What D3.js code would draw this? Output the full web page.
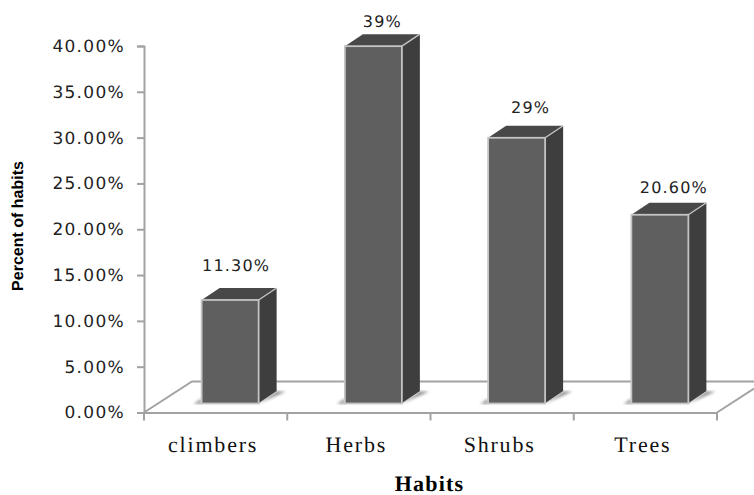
<!DOCTYPE html>
<html>
<head>
<meta charset="utf-8">
<script src="https://cdn.jsdelivr.net/npm/d3@7"></script>
<style>
html,body{margin:0;padding:0;background:#fff;}
svg{display:block;}
text{font-style:normal;text-rendering:geometricPrecision;}
.val{font-family:"DejaVu Sans";font-size:16px;fill:#222;}
.cat{font-family:"Liberation Serif";font-size:22px;fill:#111;}
.xtitle{font-family:"Liberation Serif";font-size:22px;font-weight:bold;fill:#000;}
.ytitle{font-family:"Liberation Sans";font-size:16px;font-weight:bold;fill:#000;}
</style>
</head>
<body>
<div id="chart"></div>
<script>
var categories=['climbers','Herbs','Shrubs','Trees'];
var values=[11.3,39,29,20.6];
var valueLabels=['11.30%','39%','29%','20.60%'];
var yTicks=[0,5,10,15,20,25,30,35,40];

var width=754,
    height=495,
    left=144,
    right=717,
    bottom=412.5,
    top_=46,
    // 3d 偏移
    floorDx=48,
    floorDy=31,
    depthDx=18,
    depthDy=12,
    baseLift=9,
    barShift=14.5,
    barW=57,
    axisColor='#a2a2a2';

var svg=d3.select('#chart').append('svg')
    .attr('width',width)
    .attr('height',height);

var defs=svg.append('defs');
defs.append('filter').attr('id','blur')
    .append('feGaussianBlur').attr('stdDeviation',1.6);

var scale_band=d3.scaleBand()
    .domain(categories)
    .range([left,right]);

var scale_y=d3.scaleLinear()
    .domain([0,40])
    .range([bottom,top_]);

// 地板
svg.append('path')
    .attr('d','M'+left+','+bottom+'L'+(left+floorDx)+','+(bottom-floorDy)+'L'+width+','+(bottom-floorDy))
    .attr('fill','none').attr('stroke',axisColor).attr('stroke-width',2);
svg.append('path')
    .attr('d','M'+right+','+bottom+'L'+width+','+(bottom-24))
    .attr('fill','none').attr('stroke',axisColor).attr('stroke-width',2);

// y轴
var y_axis=svg.append('g')
    .attr('transform','translate('+left+',0)')
    .call(d3.axisLeft(scale_y).tickValues(yTicks).tickSize(7).tickFormat(function(d){return d.toFixed(2)+'%';}));
y_axis.select('.domain').attr('stroke',axisColor).attr('stroke-width',2);
y_axis.selectAll('line').attr('stroke',axisColor).attr('stroke-width',2);
y_axis.selectAll('text')
    .attr('x',-19)
    .style('font-family','"DejaVu Sans"')
    .style('font-size','17px')
    .style('letter-spacing','1.3px')
    .style('fill','#222');

// x轴
var x_axis=svg.append('g')
    .attr('transform','translate(0,'+bottom+')')
    .call(d3.axisBottom(scale_band).tickSize(0));
x_axis.select('.domain').attr('stroke',axisColor).attr('stroke-width',2);
x_axis.selectAll('text').remove();
x_axis.selectAll('.tick line').remove();
x_axis.selectAll('.edge')
    .data(categories.map(function(d){return scale_band(d);}).concat([right]))
    .enter().append('line')
    .attr('x1',function(d){return d;}).attr('x2',function(d){return d;})
    .attr('y1',0).attr('y2',8)
    .attr('stroke',axisColor).attr('stroke-width',2);

// 柱子
var item=svg.selectAll('.item')
    .data(categories.map(function(c,i){return {c:c,v:values[i],label:valueLabels[i]};}))
    .enter().append('g')
    .attr('class','item');

function x0(d){return scale_band(d.c)+scale_band.bandwidth()/2+barShift-barW/2;}
function yb(){return bottom-baseLift;}
function yt(d){return scale_y(d.v)-scale_y(0)+yb();}

// 阴影
item.append('path')
    .attr('d',function(d){
        var x=x0(d),b=yb();
        return 'M'+(x-6)+','+b+'L'+(x+barW)+','+b+'L'+(x+barW+depthDx+9)+','+(b-depthDy)+'L'+(x+barW+depthDx)+','+(b-depthDy)+'L'+(x+barW)+','+b+'Z';
    })
    .attr('fill','#8a8a8a')
    .attr('filter','url(#blur)');
item.append('path')
    .attr('d',function(d){
        var x=x0(d),b=yb();
        return 'M'+(x-8)+','+(b+0.5)+'L'+x+','+(b-5)+'L'+x+','+(b+0.5)+'Z';
    })
    .attr('fill','#9a9a9a')
    .attr('filter','url(#blur)');

// 侧面
item.append('path')
    .attr('d',function(d){
        var x=x0(d)+barW,b=yb(),t=yt(d);
        return 'M'+x+','+t+'L'+(x+depthDx)+','+(t-depthDy)+'L'+(x+depthDx)+','+(b-depthDy)+'L'+x+','+b+'Z';
    })
    .attr('fill','#3e3e3e');
// 顶面
item.append('path')
    .attr('d',function(d){
        var x=x0(d),t=yt(d);
        return 'M'+x+','+t+'L'+(x+depthDx)+','+(t-depthDy)+'L'+(x+barW+depthDx)+','+(t-depthDy)+'L'+(x+barW)+','+t+'Z';
    })
    .attr('fill','#484848');
// 正面
item.append('rect')
    .attr('x',x0)
    .attr('y',yt)
    .attr('width',barW)
    .attr('height',function(d){return yb()-yt(d);})
    .attr('fill','#5f5f5f')
    .attr('stroke','#c4c4c4')
    .attr('stroke-width',1.8);
// 高光边
item.append('line')
    .attr('x1',function(d){return x0(d)+barW;})
    .attr('y1',yt)
    .attr('x2',function(d){return x0(d)+barW+depthDx;})
    .attr('y2',function(d){return yt(d)-depthDy;})
    .attr('stroke','#c4c4c4').attr('stroke-width',1.4);
item.append('line')
    .attr('x1',function(d){return x0(d)+barW;})
    .attr('y1',yb)
    .attr('x2',function(d){return x0(d)+barW+depthDx;})
    .attr('y2',function(d){return yb()-depthDy;})
    .attr('stroke','#c4c4c4').attr('stroke-width',1);

// 数值
var labelLift=[29,19,25,22],
    labelShift=[6,9,14,14];
item.append('text')
    .attr('class','val')
    .attr('x',function(d,i){return x0(d)+barW/2+labelShift[i];})
    .attr('y',function(d,i){return yt(d)-labelLift[i];})
    .attr('text-anchor','middle')
    .style('letter-spacing','1.2px')
    .text(function(d){return d.label;});

// 类别
svg.selectAll('.cat')
    .data(categories)
    .enter().append('text')
    .attr('class','cat')
    .attr('x',function(d){return scale_band(d)+scale_band.bandwidth()/2-2.5;})
    .attr('y',452)
    .attr('text-anchor','middle')
    .style('letter-spacing','1.8px')
    .text(function(d){return d;});

svg.append('text')
    .attr('class','xtitle')
    .attr('x',429.5)
    .attr('y',491)
    .attr('text-anchor','middle')
    .style('letter-spacing','1.2px')
    .text('Habits');

svg.append('text')
    .attr('class','ytitle')
    .attr('transform','translate(23,226) rotate(-90)')
    .attr('text-anchor','middle')
    .text('Percent of habits');
</script>
</body>
</html>
